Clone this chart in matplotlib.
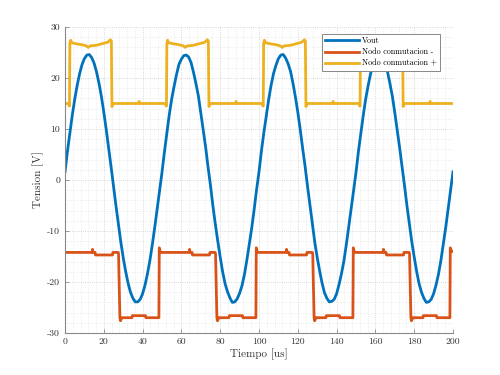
import matplotlib
matplotlib.use("Agg")
import matplotlib.pyplot as plt
from matplotlib.ticker import MultipleLocator
import numpy as np

plt.rcParams["font.family"] = ["cmr10", "DejaVu Serif"]
plt.rcParams["axes.unicode_minus"] = False
plt.rcParams["mathtext.fontset"] = "cm"

# Vout, sampled every 1.25 us from 0 to 200 us
t_vout = np.arange(0, 200.01, 1.25)
vout = [
    1.6, 5.6, 9.2, 12.7, 15.8, 18.5, 20.8, 22.6, 23.8, 24.5,
    24.6, 24.0, 22.9, 21.2, 19.0, 16.4, 13.3, 9.9, 6.3, 2.6,
    -1.2, -5.0, -8.6, -12.1, -15.2, -17.9, -20.2, -22.0, -23.2, -23.9,
    -23.9, -23.4, -22.3, -20.6, -18.4, -15.8, -12.7, -9.3, -5.7, -2.0,
    1.5, 5.5, 9.1, 12.8, 15.9, 18.4, 20.7, 22.7, 23.7, 24.4,
    24.5, 24.1, 23.0, 21.1, 18.9, 16.5, 13.2, 9.8, 6.4, 2.5,
    -1.1, -5.1, -8.7, -12.0, -15.1, -18.0, -20.3, -21.9, -23.1, -24.0,
    -23.9, -23.3, -22.2, -20.7, -18.5, -15.7, -12.6, -9.4, -5.8, -1.9,
    1.6, 5.7, 9.3, 12.6, 15.8, 18.6, 20.9, 22.5, 23.8, 24.5,
    24.6, 23.9, 22.8, 21.3, 19.0, 16.3, 13.3, 9.9, 6.2, 2.7,
    -1.2, -4.9, -8.6, -12.2, -15.2, -17.8, -20.2, -22.1, -23.2, -23.9,
    -23.8, -23.4, -22.3, -20.5, -18.4, -15.9, -12.7, -9.2, -5.6, -2.1,
    1.5, 5.6, 9.2, 12.7, 15.9, 18.5, 20.8, 22.6, 23.7, 24.4,
    24.5, 24.0, 22.9, 21.2, 18.9, 16.4, 13.2, 9.8, 6.3, 2.6,
    -1.1, -5.0, -8.6, -12.1, -15.1, -17.9, -20.3, -22.0, -23.2, -24.0,
    -23.9, -23.4, -22.3, -20.6, -18.5, -15.8, -12.6, -9.3, -5.7, -2.0,
    1.6,
]

# Nodo conmutacion - (breakpoints)
t_neg = [
    0, 14.0, 14.2, 14.5, 15.5, 15.7, 24.5, 24.7, 27.4, 27.6, 28.3, 28.6, 29.3,
    34.5, 34.7, 41.5, 41.7, 48.4, 48.6, 49.2,
    64.0, 64.2, 64.5, 65.5, 65.7, 74.5, 74.7, 77.4, 77.6, 78.3, 78.6, 79.3,
    84.5, 84.7, 91.5, 91.7, 98.4, 98.6, 99.2,
    114.0, 114.2, 114.5, 115.5, 115.7, 124.5, 124.7, 127.5, 127.7, 128.4, 128.7, 129.4,
    134.5, 134.7, 141.5, 141.7, 148.4, 148.6, 149.2,
    164.0, 164.2, 164.5, 165.5, 165.7, 174.5, 174.7, 177.4, 177.6, 178.3, 178.6, 179.3,
    184.5, 184.7, 191.5, 191.7, 198.4, 198.6, 199.2, 200,
]
v_neg = [
    -14.2, -14.2, -13.6, -14.2, -14.2, -14.7, -14.7, -14.2, -14.2, -14.5, -27.0, -27.6, -27.0,
    -27.0, -26.6, -26.6, -27.0, -27.0, -13.3, -14.2,
    -14.2, -13.6, -14.2, -14.2, -14.7, -14.7, -14.2, -14.2, -14.5, -27.0, -27.6, -27.0,
    -27.0, -26.6, -26.6, -27.0, -27.0, -13.3, -14.2,
    -14.2, -13.6, -14.2, -14.2, -14.7, -14.7, -14.2, -14.2, -14.5, -27.0, -27.6, -27.0,
    -27.0, -26.6, -26.6, -27.0, -27.0, -13.3, -14.2,
    -14.2, -13.6, -14.2, -14.2, -14.7, -14.7, -14.2, -14.2, -14.5, -27.0, -27.6, -27.0,
    -27.0, -26.6, -26.6, -27.0, -27.0, -13.3, -14.0, -14.0,
]

# Nodo conmutacion + (breakpoints)
t_pos = [
    0, 1.9, 2.1, 2.3, 2.5, 2.9, 3.5, 6, 9, 11, 12, 13, 16, 19, 22, 23.4, 23.9, 24.2, 24.8,
    38.0, 38.2, 38.5,
    51.9, 52.1, 52.3, 52.5, 52.9, 53.5, 56, 59, 61, 62, 63, 66, 69, 72, 73.4, 73.9, 74.2, 74.8,
    88.0, 88.2, 88.5,
    101.8, 102.0, 102.2, 102.4, 102.8, 103.4, 106, 109, 111, 112, 113, 116, 119, 122, 123.4, 123.9, 124.2, 124.8,
    138.0, 138.2, 138.5,
    151.7, 151.9, 152.1, 152.3, 152.7, 153.3, 156, 159, 161, 162, 163, 166, 169, 172, 173.5, 174.0, 174.3, 174.9,
    188.0, 188.2, 188.5, 200,
]
v_pos = [
    15.0, 15.0, 14.5, 14.5, 26.8, 27.4, 26.9, 26.7, 26.5, 26.3, 26.0, 26.3, 26.4, 26.7, 27.0, 27.5, 27.2, 14.4, 15.0,
    15.0, 15.4, 15.0,
    15.0, 14.5, 14.5, 26.8, 27.4, 26.9, 26.7, 26.5, 26.3, 26.0, 26.3, 26.4, 26.7, 27.0, 27.5, 27.2, 14.4, 15.0,
    15.0, 15.4, 15.0,
    15.0, 14.5, 14.5, 26.8, 27.4, 26.9, 26.7, 26.5, 26.3, 26.0, 26.3, 26.4, 26.7, 27.0, 27.5, 27.2, 14.4, 15.0,
    15.0, 15.4, 15.0,
    15.0, 14.5, 14.5, 26.8, 27.4, 26.9, 26.7, 26.5, 26.3, 26.0, 26.3, 26.4, 26.7, 27.0, 27.5, 27.2, 14.4, 15.0,
    15.0, 15.4, 15.0, 15.0,
]

fig = plt.figure(figsize=(5, 3.75), dpi=100)
ax = fig.add_axes([0.13, 0.112, 0.776, 0.816])

ax.plot(t_vout, vout, color="#0072BD", linewidth=2.0, label="Vout")
ax.plot(t_neg, v_neg, color="#D95319", linewidth=2.0, label="Nodo conmutacion -")
ax.plot(t_pos, v_pos, color="#EDB120", linewidth=2.0, label="Nodo conmutacion +")

ax.set_xlim(0, 200)
ax.set_ylim(-30, 30)
ax.xaxis.set_major_locator(MultipleLocator(20))
ax.xaxis.set_minor_locator(MultipleLocator(4))
ax.yaxis.set_major_locator(MultipleLocator(10))
ax.yaxis.set_minor_locator(MultipleLocator(2))
ax.grid(True, which="major", linestyle=":", color="#cccccc", linewidth=0.6)
ax.grid(True, which="minor", linestyle=":", color="#e2e2e2", linewidth=0.5)
ax.set_axisbelow(True)

for side in ("top", "right"):
    ax.spines[side].set_visible(False)
for side in ("left", "bottom"):
    ax.spines[side].set_color("#888888")
    ax.spines[side].set_linewidth(0.8)
ax.tick_params(which="major", direction="in", length=3, width=0.6, color="#888888",
               labelcolor="#333333", labelsize=7)
ax.tick_params(which="minor", length=0)

ax.set_xlabel("Tiempo [us]", fontsize=8, color="#333333", labelpad=2)
ax.set_ylabel("Tension [V]", fontsize=8, color="#333333", labelpad=2)

leg = ax.legend(loc="upper right", bbox_to_anchor=(0.972, 0.985), fontsize=5.8,
                frameon=True, fancybox=False, edgecolor="#888888", framealpha=1,
                handlelength=4.2, borderpad=0.35, labelspacing=0.35, handletextpad=0.4,
                borderaxespad=0.3)
leg.get_frame().set_linewidth(0.7)

fig.savefig("out.png", dpi=100)
